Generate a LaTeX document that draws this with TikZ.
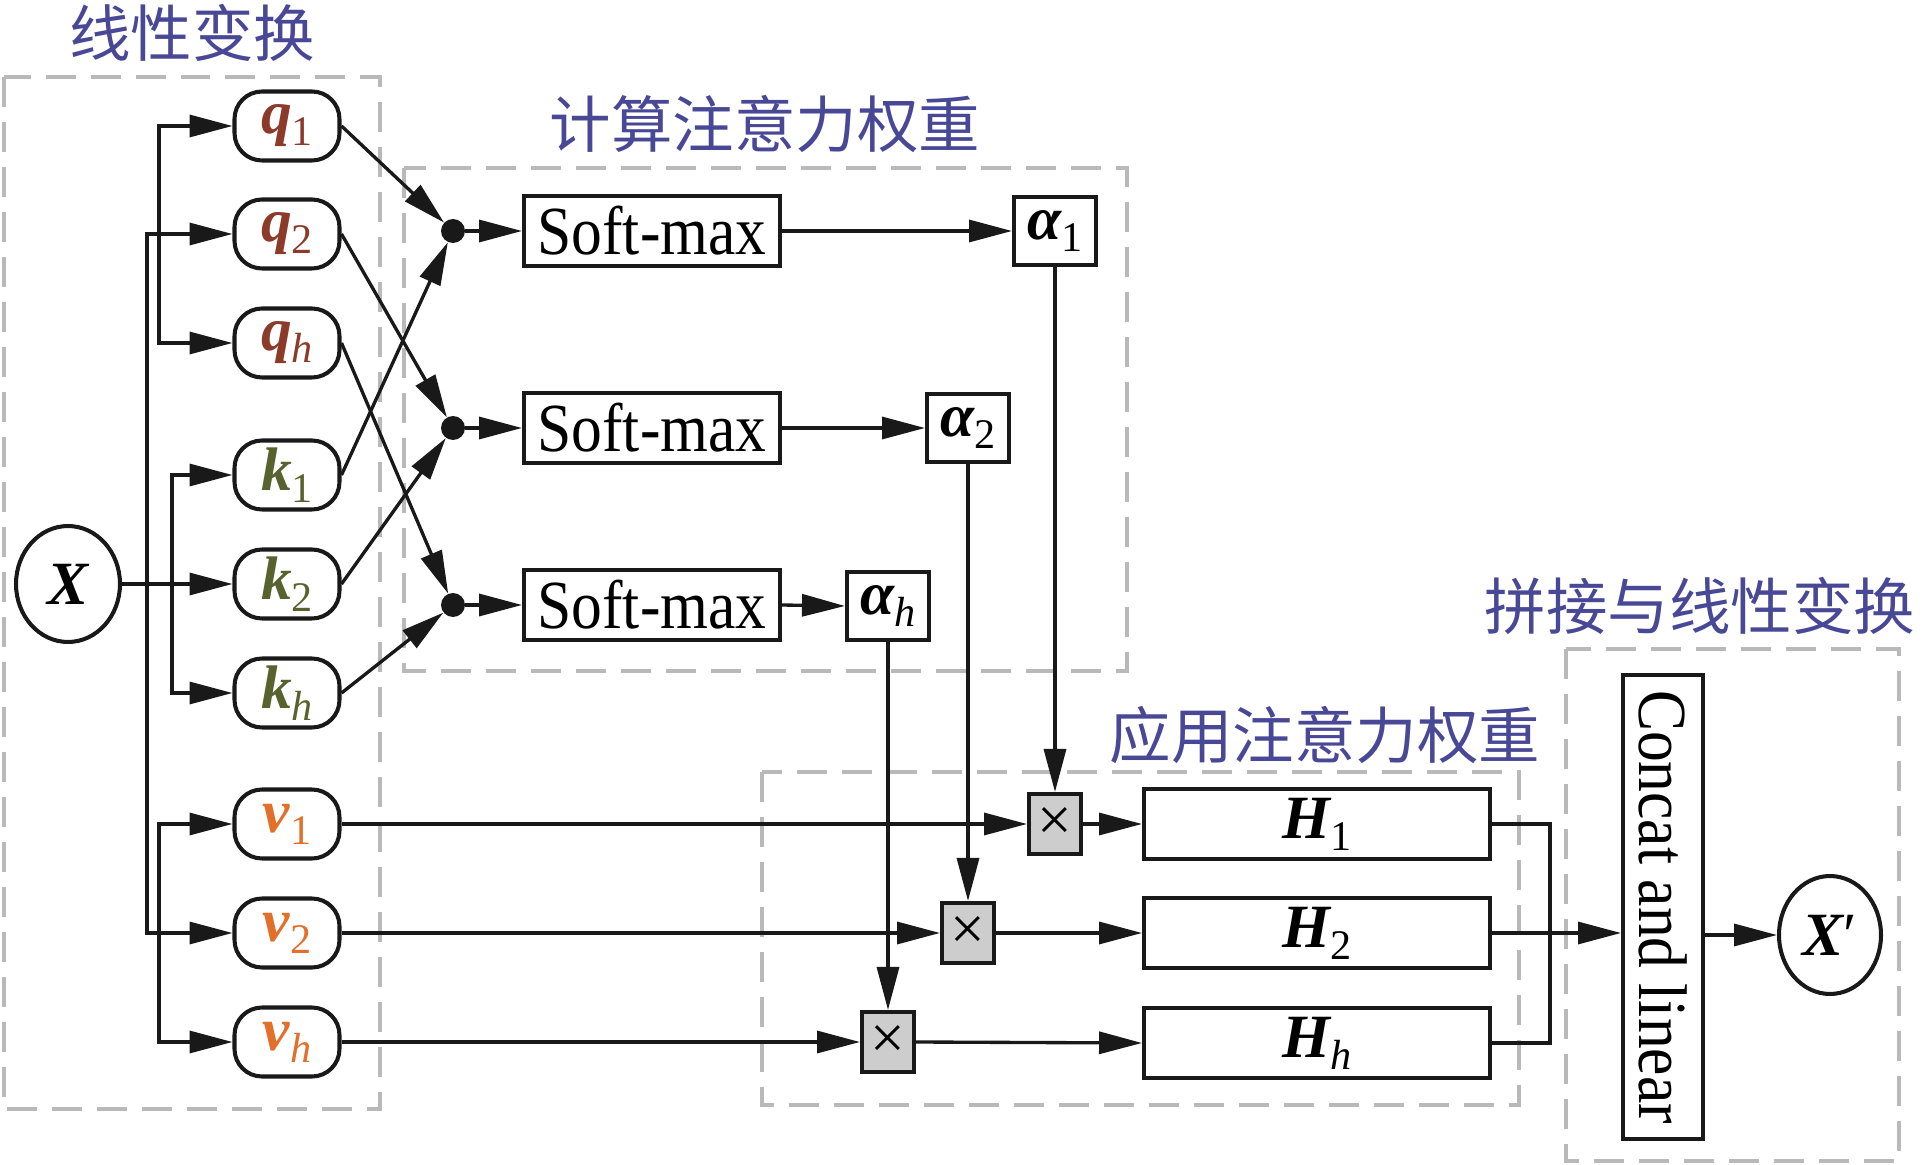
\documentclass[tikz,border=0pt]{standalone}
\usepackage{fontspec}
\setmainfont{Liberation Serif}
\newfontfamily\cjk{Noto Sans CJK SC}
\usetikzlibrary{arrows.meta,shapes.geometric,calc}
\definecolor{qc}{RGB}{140,58,42}
\definecolor{kc}{RGB}{88,98,46}
\definecolor{vc}{RGB}{226,112,42}
\definecolor{tc}{RGB}{72,72,150}
\definecolor{dg}{RGB}{185,185,185}
\definecolor{xg}{RGB}{205,205,205}
\definecolor{ink}{RGB}{25,25,25}
\newcommand\bi[1]{{\bfseries\itshape #1}}
\newcommand\sbs[1]{\raisebox{-0.24cm}{\fontsize{24}{24}\selectfont #1}}
\newcommand\tall[1]{\scalebox{1}[1.12]{#1}}
\begin{document}
\begin{tikzpicture}[x=0.02cm,y=-0.02cm,
  every node/.style={font=\fontsize{35}{42}\selectfont, inner sep=0pt},
  ln/.style={line width=1.9pt, draw=ink},
  arr/.style={ln, -{Triangle[length=0.86cm,width=0.44cm]}},
  grp/.style={draw=dg, line width=2.4pt, dash pattern=on 0.6cm off 0.3cm},
  ttl/.style={text=tc, font=\cjk\fontsize{35}{42}\selectfont},
  qkv/.style={draw=ink, line width=2.3pt, rounded corners=0.55cm, minimum width=2.1cm, minimum height=1.38cm},
  bx/.style={draw=ink, line width=2.3pt, minimum height=1.4cm},
  smx/.style={bx, minimum width=5.12cm},
  abx/.style={bx, minimum width=1.64cm, minimum height=1.36cm},
  mbx/.style={bx, fill=xg, minimum width=1.04cm, minimum height=1.2cm},
  hbx/.style={bx, minimum width=6.92cm},
  dot/.style={circle, fill=ink, minimum size=0.48cm},
  circ/.style={ellipse, draw=ink, line width=2.3pt}
]
\useasboundingbox (0,0) rectangle (1921,1165);

% group boxes
\draw[grp] (4,77) rectangle (380,1109);
\draw[grp] (404,168) rectangle (1127,671);
\draw[grp] (762,772) rectangle (1519,1105);
\draw[grp] (1566,649) rectangle (1899,1161);

% titles
\node[ttl] (t1) at (192,33) {线性变换};
\node[ttl] (t2) at (765,124) {计算注意力权重};
\node[ttl] (t3) at (1325,735) {应用注意力权重};
\node[ttl] (t4) at (1700,606) {拼接与线性变换};

% input
\node[circ, minimum width=2.08cm, minimum height=2.32cm] (X) at (68,584) {\bi{X}};

% q k v
\node[qkv, text=qc] (q1) at (287,126) {\bi{q}\sbs{1}};
\node[qkv, text=qc] (q2) at (287,234) {\bi{q}\sbs{2}};
\node[qkv, text=qc] (qh) at (287,343) {\bi{q}\sbs{\itshape h}};
\node[qkv, text=kc] (k1) at (287,475) {\bi{k}\sbs{1}};
\node[qkv, text=kc] (k2) at (287,584) {\bi{k}\sbs{2}};
\node[qkv, text=kc] (kh) at (287,693) {\bi{k}\sbs{\itshape h}};
\node[qkv, text=vc] (v1) at (287,824) {\bi{v}\sbs{1}};
\node[qkv, text=vc] (v2) at (287,933) {\bi{v}\sbs{2}};
\node[qkv, text=vc] (vh) at (287,1042) {\bi{v}\sbs{\itshape h}};

% dots, softmax, alpha
\node[dot] (d1) at (453,231) {};
\node[dot] (d2) at (453,428) {};
\node[dot] (d3) at (453,605) {};
\node[smx] (s1) at (652,231) {\tall{Soft-max}};
\node[smx] (s2) at (652,428) {\tall{Soft-max}};
\node[smx] (s3) at (652,605) {\tall{Soft-max}};
\node[abx] (a1) at (1055,231) {\bi{α}\sbs{1}};
\node[abx] (a2) at (968,428) {\bi{α}\sbs{2}};
\node[abx] (ah) at (888,606) {\bi{α}\sbs{\itshape h}};

% multiply and H
\node[mbx] (m1) at (1055,824) {×};
\node[mbx] (m2) at (968,933) {×};
\node[mbx] (mh) at (888,1042) {×};
\node[hbx] (h1) at (1317,824) {\bi{H}\sbs{1}};
\node[hbx] (h2) at (1317,933) {\bi{H}\sbs{2}};
\node[hbx] (hh) at (1317,1043) {\bi{H}\sbs{\itshape h}};

% concat and output
\node[bx, rotate=-90, minimum width=9.3cm, minimum height=1.6cm] (cc) at (1663,907) {\tall{Concat and linear}};
\node[circ, minimum width=2.04cm, minimum height=2.36cm] (Xp) at (1830,935) {\bi{X}′};

% branching from X
\coordinate (bm) at (147,584);
\coordinate (bk) at (172,584);
\coordinate (bq) at (159,234);
\coordinate (bv) at (159,933);
\draw[arr] (X.east) -- (k2.west);
\draw[arr] (bk) |- (k1.west);
\draw[arr] (bk) |- (kh.west);
\draw[arr] (bm) |- (q2.west);
\draw[arr] (bm) |- (v2.west);
\draw[arr] (bq) |- (q1.west);
\draw[arr] (bq) |- (qh.west);
\draw[arr] (bv) |- (v1.west);
\draw[arr] (bv) |- (vh.west);

% q,k to dots
\draw[arr] (q1.east) -- (d1);
\draw[arr] (k1.east) -- (d1);
\draw[arr] (q2.east) -- (d2);
\draw[arr] (k2.east) -- (d2);
\draw[arr] (qh.east) -- (d3);
\draw[arr] (kh.east) -- (d3);

% dots to softmax to alpha
\draw[arr] (d1) -- (s1.west);
\draw[arr] (d2) -- (s2.west);
\draw[arr] (d3) -- (s3.west);
\draw[arr] (s1.east) -- (a1.west);
\draw[arr] (s2.east) -- (a2.west);
\draw[arr] (s3.east) -- (ah.west);

% alpha to multiply
\draw[arr] (a1.south) -- (m1.north);
\draw[arr] (a2.south) -- (m2.north);
\draw[arr] (ah.south) -- (mh.north);

% v to multiply to H
\draw[arr] (v1.east) -- (m1.west);
\draw[arr] (v2.east) -- (m2.west);
\draw[arr] (vh.east) -- (mh.west);
\draw[arr] (m1.east) -- (h1.west);
\draw[arr] (m2.east) -- (h2.west);
\draw[arr] (mh.east) -- (hh.west);

% merge
\coordinate (j1) at (1550,824);
\coordinate (jh) at (1550,1043);
\draw[ln] (h1.east) -- (j1) -- (jh) -- (hh.east);
\draw[arr] (h2.east) -- (h2.east -| cc.south);
\draw[arr] (Xp.west -| cc.north) -- (Xp.west);
\end{tikzpicture}
\end{document}
